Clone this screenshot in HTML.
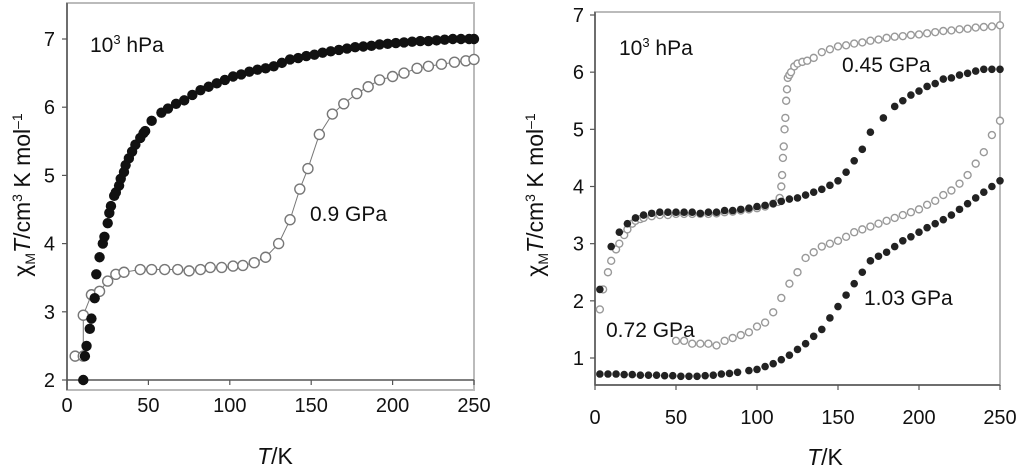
<!DOCTYPE html>
<html><head><meta charset="utf-8"><style>
html,body{margin:0;padding:0;background:#fff;width:1024px;height:468px;overflow:hidden}
svg text{font-family:"Liberation Sans",sans-serif;fill:#111}
</style></head><body>
<svg id="fig" width="1024" height="468" viewBox="0 0 1024 468">
<g id="left"></g>
<g id="right"></g>
</svg>
<script>
// Left chart data
const leftAmbT = [10,11,12,14,15,17,18,20,22,23,25,26,27,29,30,32,33,35,36,38,40,42,45,47,48,52,58,62,67,72,77,82,87,92,97,102,107,112,117,122,127,132,137,142,147,152,157,162,167,172,177,182,187,192,197,202,207,212,217,222,227,232,237,242,247,250];
const leftAmbX = [2.0,2.35,2.5,2.75,2.9,3.2,3.55,3.8,4.0,4.1,4.3,4.45,4.55,4.7,4.75,4.85,4.95,5.05,5.15,5.25,5.35,5.45,5.55,5.62,5.65,5.8,5.92,5.98,6.05,6.1,6.18,6.25,6.3,6.35,6.4,6.45,6.48,6.52,6.55,6.57,6.6,6.65,6.7,6.72,6.75,6.77,6.8,6.82,6.84,6.86,6.88,6.89,6.9,6.92,6.93,6.94,6.95,6.96,6.97,6.97,6.98,6.99,7.0,7.0,7.0,7.0];
const leftHpT = [5,10,10,15,20,25,30,35,45,52,60,68,75,82,88,95,102,108,115,122,130,137,143,148,155,163,170,178,185,192,200,207,215,222,230,238,245,250];
const leftHpX = [2.35,2.35,2.95,3.25,3.3,3.45,3.55,3.58,3.62,3.62,3.62,3.62,3.6,3.62,3.65,3.65,3.67,3.68,3.72,3.8,4.0,4.35,4.8,5.1,5.6,5.9,6.05,6.2,6.3,6.4,6.45,6.5,6.57,6.6,6.63,6.66,6.68,6.7];
const leftXTicks = [0,50,100,150,200,250];
const leftYTicks = [2,3,4,5,6,7];
// Right chart data
const r045openT = [3,5,8,10,13,15,18,20,23,25,28,30,35,40,45,50,55,60,65,70,75,80,85,90,95,100,105,110,113,114,115,115.5,116,116.5,117,117.5,118,118.5,119,120,121,123,125,128,131,135,140,145,150,155,160,165,170,175,180,185,190,195,200,205,210,215,220,225,230,235,240,245,250];
const r045openX = [1.85,2.2,2.5,2.7,2.9,3.0,3.15,3.25,3.35,3.4,3.43,3.45,3.48,3.5,3.5,3.52,3.52,3.52,3.52,3.52,3.53,3.55,3.56,3.58,3.6,3.62,3.65,3.7,3.73,3.8,4.0,4.2,4.5,4.7,5.0,5.2,5.5,5.7,5.9,5.95,6.0,6.1,6.15,6.18,6.2,6.25,6.35,6.4,6.45,6.47,6.5,6.52,6.55,6.57,6.6,6.62,6.63,6.65,6.66,6.68,6.7,6.72,6.73,6.75,6.76,6.78,6.79,6.8,6.82];
const r045fillT = [3,10,15,20,25,30,35,40,45,50,55,60,65,70,75,80,85,90,95,100,105,110,115,120,125,130,135,140,145,150,155,160,165,170,178,185,190,195,200,205,210,215,220,225,230,235,240,245,250];
const r045fillX = [2.2,2.95,3.2,3.35,3.45,3.5,3.53,3.55,3.55,3.55,3.55,3.55,3.53,3.55,3.55,3.58,3.58,3.6,3.62,3.65,3.67,3.7,3.74,3.78,3.8,3.85,3.9,3.95,4.02,4.1,4.25,4.45,4.65,4.95,5.2,5.4,5.5,5.6,5.67,5.75,5.8,5.88,5.9,5.95,5.98,6.02,6.05,6.05,6.05];
const r072T = [50,55,60,65,70,75,80,85,90,95,100,105,110,115,120,125,130,135,140,145,150,155,160,165,170,175,180,185,190,195,200,205,210,215,220,225,230,235,240,245,250];
const r072X = [1.3,1.3,1.25,1.25,1.25,1.22,1.3,1.35,1.4,1.45,1.55,1.62,1.8,2.05,2.3,2.5,2.75,2.85,2.95,3.0,3.05,3.12,3.2,3.25,3.3,3.35,3.4,3.45,3.5,3.55,3.6,3.68,3.75,3.85,3.93,4.05,4.2,4.4,4.6,4.9,5.15];
const r103T = [3,8,13,18,23,28,33,38,43,48,53,58,63,68,73,78,83,88,95,100,105,110,115,120,125,130,135,140,145,150,155,160,165,170,175,180,185,190,195,200,205,210,215,220,225,230,235,240,245,250];
const r103X = [0.72,0.72,0.72,0.71,0.71,0.7,0.7,0.7,0.69,0.69,0.68,0.68,0.68,0.69,0.7,0.72,0.73,0.75,0.78,0.8,0.85,0.9,0.97,1.05,1.15,1.25,1.38,1.5,1.7,1.9,2.1,2.3,2.5,2.7,2.78,2.85,2.95,3.05,3.12,3.2,3.28,3.35,3.42,3.5,3.6,3.7,3.8,3.9,4.0,4.1];
const rightXTicks = [0,50,100,150,200,250];
const rightYTicks = [1,2,3,4,5,6,7];

const NS='http://www.w3.org/2000/svg';
function mk(parent,tag,attrs){const e=document.createElementNS(NS,tag);for(const k in attrs)e.setAttribute(k,attrs[k]);parent.appendChild(e);return e;}

function axes(g,cfg){
  const sx=t=>cfg.x0+(t-cfg.t0)/(cfg.t1-cfg.t0)*(cfg.x1-cfg.x0);
  const sy=v=>cfg.yb-(v-cfg.v0)/(cfg.v1-cfg.v0)*(cfg.yb-cfg.ytop);
  const fr=mk(g,'rect',{x:cfg.x0,y:cfg.ft,width:cfg.x1-cfg.x0,height:cfg.fb-cfg.ft,fill:'none',stroke:'#bbb','stroke-width':2});
  
  
  const xa=mk(g,'line',{x1:cfg.x0,x2:cfg.x1,y1:cfg.ax,y2:cfg.ax,stroke:'#555','stroke-width':1.5});
  
  
  const ya=mk(g,'line',{x1:cfg.x0,x2:cfg.x0,y1:cfg.ft,y2:cfg.fb,stroke:'#555','stroke-width':1.5});
  
  
  cfg.xticks.forEach(t=>{
    const l=mk(g,'line',{x1:sx(t),x2:sx(t),y1:cfg.ax,y2:cfg.ax+5,stroke:'#555','stroke-width':1.2});
    
    
    const tx=mk(g,'text',{x:sx(t),y:cfg.xly,'font-size':20,'text-anchor':'middle'});tx.textContent=t;
    
    
  });
  cfg.yticks.forEach(v=>{
    const l=mk(g,'line',{x1:cfg.x0-5,x2:cfg.x0,y1:sy(v),y2:sy(v),stroke:'#555','stroke-width':1.2});
    
    
    const tx=mk(g,'text',{x:cfg.ylx,y:sy(v)+7,'font-size':20,'text-anchor':'end'});tx.textContent=v;
    
    
  });
  const xt=mk(g,'text',{x:cfg.xtx,y:cfg.xty,'font-size':23,'text-anchor':'middle'});
  xt.innerHTML='<tspan font-style="italic">T</tspan>/K';
  
  
  const yt=mk(g,'text',{x:0,y:0,'font-size':23,'text-anchor':'middle',transform:`translate(${cfg.ytx},${cfg.yty}) rotate(-90)`});
  yt.innerHTML='χ<tspan font-size="14" dy="5">M</tspan><tspan font-style="italic" dy="-5">T</tspan>/cm<tspan font-size="14" dy="-8">3</tspan><tspan dy="8"> K mol</tspan><tspan font-size="14" dy="-8">–1</tspan>';
  
  
  return {sx,sy};
}
function series(g,s,T,X,opt,name){
  const sg=mk(g,'g',{});
  
  
  if(opt.line){
    const p=mk(sg,'polyline',{points:T.map((t,i)=>s.sx(t)+','+s.sy(X[i])).join(' '),fill:'none',stroke:opt.stroke,'stroke-width':1});
    
    
  }
  T.forEach((t,i)=>{
    const c=mk(sg,'circle',{cx:s.sx(t),cy:s.sy(X[i]),r:opt.r,fill:opt.fill,stroke:opt.stroke,'stroke-width':opt.sw});
    
    
  });
}
function label(g,x,y,html,name){
  const t=mk(g,'text',{x:x,y:y,'font-size':21});t.innerHTML=html;
  
  
}
const L=document.getElementById('left');
const sL=axes(L,{x0:67,x1:474,t0:0,t1:250,yb:380,ytop:39,v0:2,v1:7,ft:3,fb:390,ax:380,xticks:leftXTicks,yticks:leftYTicks,ylx:55,xly:412,xtx:275,xty:464,ytx:30,yty:195});
series(L,sL,leftHpT,leftHpX,{line:true,r:5,fill:'#fff',stroke:'#777',sw:1.4},'series-0-9-gpa');
series(L,sL,leftAmbT,leftAmbX,{line:false,r:5.2,fill:'#111',stroke:'#111',sw:0},'series-1e3-hpa');
label(L,90,52,'10<tspan font-size="13" dy="-8">3</tspan><tspan dy="8"> hPa</tspan>','label-1e3-hpa');
label(L,310,221,'0.9 GPa','label-0-9-gpa');

const R=document.getElementById('right');
const sR=axes(R,{x0:595,x1:1000,t0:0,t1:250,yb:358,ytop:15,v0:1,v1:7,ft:12,fb:385,ax:385,xticks:rightXTicks,yticks:rightYTicks,ylx:584,xly:424,xtx:825,xty:465,ytx:543,yty:195});
series(R,sR,r045openT,r045openX,{line:false,r:3.5,fill:'#fff',stroke:'#999',sw:1.4},'series-0-45-gpa-open');
series(R,sR,r072T,r072X,{line:false,r:3.5,fill:'#fff',stroke:'#999',sw:1.4},'series-0-72-gpa');
series(R,sR,r045fillT,r045fillX,{line:false,r:3.8,fill:'#222',stroke:'#222',sw:0},'series-0-45-gpa-filled');
series(R,sR,r103T,r103X,{line:false,r:3.8,fill:'#222',stroke:'#222',sw:0},'series-1-03-gpa');
label(R,619,55,'10<tspan font-size="13" dy="-8">3</tspan><tspan dy="8"> hPa</tspan>','label-1e3-hpa-right');
label(R,842,72,'0.45 GPa','label-0-45-gpa');
label(R,606,337,'0.72 GPa','label-0-72-gpa');
label(R,864,305,'1.03 GPa','label-1-03-gpa');
</script>
</body></html>
